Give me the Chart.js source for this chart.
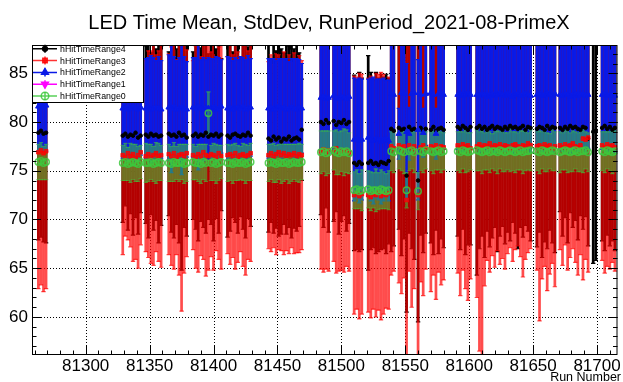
<!DOCTYPE html>
<html><head><meta charset="utf-8">
<script src="https://cdn.jsdelivr.net/npm/chart.js@4.4.3/dist/chart.umd.min.js"></script>
<style>html,body{margin:0;padding:0;background:#fff}canvas{display:block}</style>
</head>
<body>
<canvas id="mychart" width="623" height="382"></canvas>
<script>
// run numbers (groups: A, B, C, D, E)
const runs = [
 81263,81265,81267,81269,
 81329,81331,81333,81335,81337,81339,81341,81343,81347,81349,81351,81353,81355,81357,81359,
 81365,81367,81369,81371,81373,81375,81377,81379,81384,81386,81388,81390,81392,81394,81396,
 81398,81400,81402,81404,81406,81411,81413,81415,81417,81419,81421,81423,81425,81427,81429,
 81443,81445,81447,81449,81451,81453,81455,81457,81459,81461,81463,81465,81467,81469,
 81484,81486,81488,81490,81494,81496,81498,81500,81502,81504,81506,
 81510,81512,81514,81516,81521,81523,81525,81527,81529,81531,81533,81535,81537,
 81539,81541,81545,81547,81549,81551,81553,81555,81557,81560,81562,81564,81566,81570,81572,81574,81576,81578,81580,
 81591,81593,81595,81597,81599,81601,
 81606,81608,81610,81612,81614,81616,81618,81620,81622,81624,81626,81628,81630,81632,81634,81636,81638,81640,81642,81644,81646,81648,
 81653,81655,81657,81659,81661,81663,81665,81667,
 81671,81673,81675,81677,81679,81681,81683,81685,81687,81689,81691,81693,
 81697,81699,
 81704,81706,81708,81710,81712,81714
];

// hHitTimeRange4 mean / std dev
const r4Mean = [
 78.9,79.1,78.8,78.9,
 78.6,78.8,78.5,78.7,78.6,78.9,78.4,78.6,78.7,78.5,78.8,78.6,78.7,78.5,78.6,
 78.8,78.6,78.7,78.5,78.9,78.6,78.7,78.4,78.6,78.8,78.5,78.7,78.6,78.9,78.5,
 78.7,78.6,78.8,78.5,78.7,78.6,78.4,78.7,78.8,78.6,78.5,78.7,78.6,78.9,78.6,
 78.3,78.1,78.5,78.2,78.4,78.0,78.3,78.2,78.5,78.1,78.3,78.4,78.2,79.2,
 80.0,79.8,80.2,79.9,80.1,79.7,80.0,79.9,80.2,79.8,80.0,
 75.8,75.6,75.9,75.7,75.8,76.0,75.7,75.8,75.6,75.9,75.8,75.7,76.0,
 79.3,79.1,79.4,79.2,79.3,74.5,79.5,79.2,79.3,74.0,79.4,79.1,79.3,79.2,79.5,79.1,79.3,79.4,79.2,
 79.5,79.3,79.6,79.4,79.2,79.5,
 79.4,79.6,79.3,79.5,79.2,79.4,79.6,79.3,79.5,79.4,79.2,79.5,79.3,79.6,79.4,79.5,79.3,79.4,79.6,79.2,79.5,79.4,
 79.3,79.5,79.4,79.2,79.6,79.3,79.5,79.4,
 79.4,79.2,79.5,79.3,79.6,79.4,79.5,79.3,79.2,79.5,79.4,78.3,
 79.0,79.1,
 79.4,79.6,79.3,79.5,79.2,79.4
];
const r4Err = [
 11.0,10.9,11.1,11.3,
 8.9,7.4,9.6,8.1,10.2,8.7,9.9,7.9,9.1,10.4,8.3,9.7,8.8,10.9,9.2,
 8.4,9.9,10.6,9.0,11.3,13.8,9.5,10.1,8.6,9.8,10.7,8.9,9.4,10.3,8.5,
 9.2,10.8,8.7,9.9,7.8,10.4,9.6,8.5,9.1,10.0,8.2,9.7,10.5,8.8,9.3,
 9.6,8.4,9.9,9.1,10.1,9.5,8.8,9.7,9.3,10.0,9.2,9.6,8.9,5.2,
 9.5,10.6,9.0,11.2,10.3,8.9,11.5,10.1,9.8,11.0,10.4,
 9.0,8.7,9.2,8.8,11.0,9.1,8.6,9.3,8.9,9.0,8.8,9.2,8.5,
 12.6,11.8,10.4,12.9,11.3,14.0,10.9,12.2,13.4,14.5,11.0,12.5,10.7,11.6,13.1,10.2,12.8,11.4,12.1,
 11.2,12.4,10.6,13.0,11.8,12.1,
 15.1,12.6,11.0,13.4,10.4,12.2,11.5,10.1,12.8,11.1,9.9,12.0,10.6,11.8,9.7,10.9,12.3,10.2,11.4,9.8,10.7,11.6,
 12.1,10.8,13.3,11.5,12.6,10.4,11.9,12.8,
 8.6,10.9,9.3,11.7,8.9,10.2,9.6,11.4,8.8,10.5,9.1,11.0,
 13.5,13.3,
 11.6,12.8,10.9,12.2,11.4,12.6
];

// hHitTimeRange3
const r3Mean = [
 76.9,77.1,76.8,77.0,
 76.6,76.4,76.8,76.5,76.7,76.3,76.6,76.9,76.5,76.7,76.4,76.6,76.8,76.5,76.6,
 76.7,76.5,76.8,76.4,76.6,76.7,76.5,76.8,76.6,76.4,76.7,76.5,76.9,76.6,76.5,
 76.7,76.6,76.4,76.8,76.5,76.6,76.7,76.5,76.8,76.4,76.6,76.7,76.5,76.6,76.8,
 76.6,76.8,76.5,76.7,76.9,76.6,76.8,76.5,76.7,76.6,76.8,76.5,76.7,76.6,
 77.0,77.2,76.8,77.1,76.9,77.3,77.0,76.8,77.1,77.0,76.9,
 72.5,72.7,72.4,72.6,72.5,72.3,72.6,72.5,72.8,72.4,72.6,72.5,72.7,
 77.5,77.3,77.6,77.4,77.5,72.0,77.6,77.3,77.5,72.5,77.4,77.6,77.3,77.5,77.4,77.6,77.3,77.5,77.4,
 77.6,77.4,77.7,77.5,77.6,77.3,
 77.5,77.7,77.4,77.6,77.5,77.8,77.4,77.6,77.5,77.7,77.4,77.6,77.5,77.3,77.6,77.7,77.5,77.4,77.6,77.5,77.8,77.6,
 77.5,77.6,77.4,77.7,77.5,77.6,77.3,77.5,
 77.6,77.4,77.7,77.5,77.6,77.8,77.5,77.4,77.6,78.3,78.2,78.4,
 null,null,
 77.6,77.4,77.7,77.5,77.6,77.4
];
const r3Err = [
 14.0,13.8,14.2,14.1,
 10.2,8.1,8.9,9.3,11.0,10.4,11.6,9.5,9.8,10.6,10.9,11.3,10.1,10.8,11.5,
 10.3,11.2,11.9,10.0,12.3,16.1,12.0,10.6,9.7,11.4,12.1,10.2,11.0,12.4,11.7,
 10.5,11.8,9.6,10.9,11.6,10.1,11.3,10.4,11.9,10.8,9.9,11.5,12.2,10.7,11.1,
 9.6,10.1,9.4,10.3,10.0,9.8,10.4,9.7,10.2,9.5,10.3,9.9,10.1,9.7,
 12.1,12.6,11.9,12.4,11.2,12.8,12.3,12.0,12.5,11.8,12.2,
 12.2,11.9,12.6,12.3,12.0,12.4,11.8,12.5,12.1,12.7,12.3,11.6,11.9,
 13.2,12.6,14.1,15.0,13.5,17.5,12.9,16.3,14.6,18.0,13.8,15.4,12.4,14.9,13.1,15.8,12.7,14.2,13.6,
 13.1,15.2,12.9,14.6,15.9,13.4,
 15.5,21.2,23.4,14.4,11.7,13.2,11.1,12.5,10.7,12.3,11.4,12.7,11.0,10.2,11.9,10.8,10.2,11.2,13.5,11.6,11.2,10.6,
 12.7,18.0,13.5,12.5,14.8,13.2,11.8,14.4,
 10.7,12.1,10.3,12.7,11.5,10.8,11.9,13.1,11.2,14.5,12.3,13.8,
 null,null,
 11.8,12.9,12.5,12.6,12.0,12.7
];

// hHitTimeRange2
const r2Mean = [
 81.6,81.8,81.5,81.7,
 81.4,81.5,81.3,81.4,81.6,81.4,81.3,81.5,81.4,81.6,81.3,81.4,81.5,81.4,81.3,
 81.5,81.4,81.6,81.3,81.4,81.5,81.4,81.3,81.5,81.4,81.6,81.4,81.3,81.5,81.4,
 81.4,81.5,81.3,81.4,81.6,81.4,81.5,81.3,81.4,81.5,81.4,81.6,81.3,81.4,81.5,
 81.4,81.5,81.3,81.4,81.6,81.4,81.5,81.3,81.4,81.5,81.4,81.3,81.5,81.4,
 82.5,82.6,82.4,82.5,82.7,82.5,82.4,82.6,82.5,82.4,82.6,
 78.2,78.3,78.1,78.2,78.4,78.2,78.1,78.3,78.2,78.0,78.2,78.3,78.1,
 82.9,82.8,78.8,83.0,82.9,79.0,78.8,82.9,83.0,79.2,82.8,78.9,82.9,83.0,82.8,78.8,82.9,83.0,82.8,
 82.8,82.9,82.7,82.8,83.0,82.8,
 82.8,82.7,82.9,82.8,82.6,82.8,82.9,82.7,82.8,83.0,82.8,82.7,82.9,82.8,82.6,82.8,82.9,82.7,82.8,82.9,82.8,82.7,
 82.8,82.9,82.7,82.8,83.0,82.8,82.7,82.9,
 82.8,82.7,82.9,82.8,82.6,82.8,82.9,82.7,82.8,82.9,82.7,82.8,
 null,null,
 82.8,82.9,82.7,82.8,82.9,82.7
];
const r2Err = [
 4.6,4.8,4.5,4.7,
 5.1,4.9,5.3,5.0,4.8,5.4,5.2,4.9,5.1,5.0,5.5,5.2,4.8,5.3,5.0,
 5.4,6.6,5.1,5.0,5.2,6.9,5.3,4.9,5.1,5.2,6.5,5.0,5.3,4.9,5.2,
 5.1,5.0,5.4,5.2,4.8,5.3,5.1,5.0,5.2,4.9,5.3,5.0,5.1,5.4,5.0,
 5.1,5.0,5.2,4.9,4.9,5.1,5.0,5.2,4.8,5.0,5.1,5.2,4.9,4.6,
 5.6,5.8,5.5,5.7,5.9,5.6,5.4,5.8,5.7,5.5,5.6,
 6.3,6.1,6.4,6.2,6.0,6.3,6.5,6.1,6.2,6.4,6.3,6.0,6.2,
 5.4,5.6,2.6,5.3,5.5,7.0,2.7,5.4,5.6,7.2,5.5,2.5,5.3,5.6,5.4,2.6,5.5,5.3,5.6,
 5.6,5.4,5.7,5.5,5.3,5.6,
 5.5,5.8,5.4,5.6,5.7,5.5,5.4,5.8,5.6,5.3,5.5,5.7,5.4,5.6,5.8,5.5,5.4,5.6,5.7,5.5,5.6,5.8,
 5.5,5.4,5.7,5.6,5.3,5.5,5.8,5.4,
 5.6,5.7,5.4,5.5,5.8,5.6,5.4,5.7,5.5,5.6,5.8,5.5,
 null,null,
 5.6,5.4,5.7,5.5,5.6,5.8
];

// hHitTimeRange1 (no entries in this period)
const r1Mean = [];
const r1Err = [];

// hHitTimeRange0
const r0Mean = [
 75.9,76.0,75.8,75.9,
 75.8,75.9,75.7,75.8,75.9,75.8,75.7,75.9,75.8,75.8,75.9,75.7,75.8,75.9,75.8,
 75.8,75.7,75.9,75.8,75.8,75.9,75.7,75.8,75.9,75.8,75.8,75.7,75.9,75.8,80.9,
 75.8,75.9,75.7,75.8,75.9,75.8,75.8,75.7,75.9,75.8,75.8,75.9,75.7,75.8,75.9,
 75.8,75.9,75.8,75.7,75.9,75.8,75.8,75.9,75.7,75.8,75.9,75.8,75.8,75.9,
 76.9,77.0,76.8,76.9,77.1,76.9,76.8,77.0,76.9,77.0,76.8,
 73.0,73.1,72.9,73.0,73.1,72.9,73.0,73.0,72.9,73.1,73.0,72.9,73.0,
 77.0,76.9,77.1,77.0,76.9,73.0,77.0,77.1,76.9,72.9,77.0,76.9,77.1,77.0,76.9,77.0,77.1,76.9,77.0,
 77.0,76.9,77.1,77.0,76.9,77.0,
 77.1,77.0,76.9,77.0,77.1,76.9,77.0,77.0,76.9,77.1,77.0,76.9,77.0,77.1,77.0,76.9,77.0,77.1,76.9,77.0,77.0,77.1,
 77.0,76.9,77.1,77.0,76.9,77.0,77.1,77.0,
 76.9,77.0,77.1,77.0,76.9,77.0,77.1,76.9,77.0,77.0,77.1,76.9,
 null,null,
 77.0,76.9,77.1,77.0,76.9,77.0
];
const r0Err = [
 1.8,1.9,1.7,1.8,
 1.8,1.9,1.7,2.0,1.8,1.9,1.8,1.7,2.0,1.9,1.8,1.8,2.1,1.9,1.8,
 1.9,1.8,2.0,1.7,1.9,1.8,2.0,1.9,1.8,1.7,1.9,2.0,1.8,1.9,2.2,
 1.8,1.9,2.0,1.8,1.7,1.9,1.8,2.0,1.9,1.8,1.7,1.9,2.0,1.8,1.9,
 1.9,1.8,2.0,1.9,1.8,2.1,1.9,1.8,2.0,1.9,1.8,1.9,2.0,1.8,
 2.2,2.1,2.3,2.2,2.0,2.3,2.2,2.1,2.4,2.2,2.1,
 1.9,2.0,1.8,2.1,1.9,2.0,1.8,2.2,1.9,2.0,1.9,1.8,2.0,
 2.0,2.1,1.9,2.0,2.2,1.8,2.0,1.9,2.1,1.9,2.0,2.1,1.9,2.0,2.2,1.9,2.0,2.1,1.9,
 2.0,2.1,1.9,2.2,2.0,1.9,
 2.1,2.0,2.2,1.9,2.0,2.1,1.8,2.0,2.2,1.9,2.1,2.0,1.9,2.2,2.0,2.1,1.9,2.0,2.2,2.0,1.9,2.1,
 2.0,2.2,1.9,2.1,2.0,1.8,2.1,2.0,
 2.1,1.9,2.0,2.2,2.0,2.1,1.9,2.0,2.1,2.2,1.9,2.0,
 null,null,
 2.0,2.1,1.9,2.0,2.2,2.1
];

// axes
const xTicks = [81300,81350,81400,81450,81500,81550,81600,81650,81700];
const yTicks = [60,65,70,75,80,85];
const X_MIN = 81258, X_MAX = 81716, Y_MIN = 56.1, Y_MAX = 87.9;

const FONT = "'Liberation Sans', Arial, Helvetica, sans-serif";

// drawn in this order (black under red under blue under green)
const series = [
  {label:'hHitTimeRange4', mean:r4Mean, err:r4Err, bar:'#000000', line:'#000000', fill:'#000000', style:'circle', r:1.8, rot:0},
  {label:'hHitTimeRange3', mean:r3Mean, err:r3Err, bar:'rgba(255,0,0,0.7)', line:'rgba(255,0,0,0.8)', fill:'rgba(255,0,0,0.8)', style:'rect', r:2.6, rot:0},
  {label:'hHitTimeRange2', mean:r2Mean, err:r2Err, bar:'#0a1ae6', line:'#0a1ae6', fill:'#0a1ae6', style:'triangle', r:3.3, rot:0},
  {label:'hHitTimeRange1', mean:r1Mean, err:r1Err, bar:'rgba(255,0,255,0.7)', line:'#ff00ff', fill:'#ff00ff', style:'triangle', r:3.3, rot:180},
  {label:'hHitTimeRange0', mean:r0Mean, err:r0Err, bar:'rgba(60,200,60,0.55)', line:'rgba(60,200,60,0.85)', fill:'rgba(0,0,0,0)', style:'circle', r:3.2, rot:0}
];

const datasets = series.map((s, k) => ({
  label: s.label,
  data: runs.map((r, i) => ({x: r, y: s.mean[i] == null ? null : s.mean[i]})).filter(p => p.y != null),
  showLine: false,
  pointStyle: s.style,
  pointRotation: s.rot,
  pointRadius: s.r,
  pointBackgroundColor: s.fill,
  pointBorderColor: s.line,
  pointBorderWidth: k == 4 ? 1.5 : 1,
  order: 5 - k
}));

const rootLook = {
  id: 'rootLook',
  beforeDatasetsDraw(chart) {
    const ctx = chart.ctx, a = chart.chartArea;
    const xs = chart.scales.x, ys = chart.scales.y;
    ctx.save();
    // dotted grid
    ctx.strokeStyle = '#000'; ctx.lineWidth = 1; ctx.setLineDash([1, 2]);
    xTicks.forEach(v => {
      const px = Math.round(xs.getPixelForValue(v)) + 0.5;
      ctx.beginPath(); ctx.moveTo(px, a.top); ctx.lineTo(px, a.bottom); ctx.stroke();
    });
    yTicks.forEach(v => {
      const py = Math.round(ys.getPixelForValue(v)) + 0.5;
      ctx.beginPath(); ctx.moveTo(a.left, py); ctx.lineTo(a.right, py); ctx.stroke();
    });
    ctx.setLineDash([]);
    // error bars
    ctx.beginPath(); ctx.rect(a.left, a.top, a.right - a.left, a.bottom - a.top); ctx.clip();
    series.forEach(s => {
      ctx.strokeStyle = s.bar;
      for (let i = 0; i < runs.length; i++) {
        const m = s.mean[i], e = s.err[i];
        if (m == null || e == null) continue;
        const px = xs.getPixelForValue(runs[i]);
        const lo = ys.getPixelForValue(m - e), hi = ys.getPixelForValue(m + e);
        ctx.lineWidth = 2.7;
        ctx.beginPath(); ctx.moveTo(px, lo); ctx.lineTo(px, hi); ctx.stroke();
        ctx.lineWidth = 1.2;
        ctx.beginPath();
        ctx.moveTo(px - 2.2, lo); ctx.lineTo(px + 2.2, lo);
        ctx.moveTo(px - 2.2, hi); ctx.lineTo(px + 2.2, hi);
        ctx.stroke();
      }
    });
    ctx.restore();
  },
  afterDatasetsDraw(chart) {
    const ctx = chart.ctx, a = chart.chartArea;
    const xs = chart.scales.x, ys = chart.scales.y;
    ctx.save();
    ctx.strokeStyle = '#000'; ctx.lineWidth = 1;
    // frame
    ctx.strokeRect(a.left + 0.5, a.top + 0.5, a.right - a.left - 1, a.bottom - a.top - 1);
    // ticks on all sides
    ctx.beginPath();
    for (let v = Math.ceil(Y_MIN); v <= Y_MAX; v++) {
      const py = Math.round(ys.getPixelForValue(v)) + 0.5;
      const len = yTicks.includes(v) ? 9 : 4.5;
      ctx.moveTo(a.left, py); ctx.lineTo(a.left + len, py);
      ctx.moveTo(a.right, py); ctx.lineTo(a.right - len, py);
    }
    for (let v = Math.ceil(X_MIN / 10) * 10; v <= X_MAX; v += 10) {
      const px = Math.round(xs.getPixelForValue(v)) + 0.5;
      const len = xTicks.includes(v) ? 9 : 4.5;
      ctx.moveTo(px, a.bottom); ctx.lineTo(px, a.bottom - len);
      ctx.moveTo(px, a.top); ctx.lineTo(px, a.top + len);
    }
    ctx.stroke();
    // legend box
    const L = {x: 32, y: 45, w: 111, h: 57};
    ctx.fillStyle = '#fff';
    ctx.fillRect(L.x, L.y, L.w, L.h);
    ctx.strokeRect(L.x + 0.5, L.y + 0.5, L.w, L.h);
    series.forEach((s, k) => {
      const y = 48.8 + 11.8 * k, cx = 45;
      ctx.strokeStyle = s.line; ctx.lineWidth = 1.5;
      ctx.beginPath();
      ctx.moveTo(33, y); ctx.lineTo(57, y);
      ctx.moveTo(cx, y - 4); ctx.lineTo(cx, y + 4);
      ctx.stroke();
      ctx.fillStyle = s.fill; ctx.strokeStyle = s.line;
      Chart.helpers.drawPoint(ctx, {pointStyle: s.style, radius: s.r + 0.6, rotation: s.rot, borderWidth: k == 4 ? 1.5 : 1}, cx, y);
      ctx.fillStyle = '#000';
      ctx.font = '8.8px ' + FONT;
      ctx.textAlign = 'left'; ctx.textBaseline = 'middle';
      ctx.fillText(s.label, 60, y + 0.5);
    });
    ctx.restore();
  },
  afterDraw(chart) {
    const ctx = chart.ctx;
    ctx.save();
    ctx.fillStyle = '#000';
    ctx.font = '20px ' + FONT;
    ctx.textAlign = 'center'; ctx.textBaseline = 'alphabetic';
    ctx.fillText('LED Time Mean, StdDev, RunPeriod_2021-08-PrimeX', 329, 29);
    ctx.font = '12.5px ' + FONT;
    ctx.textAlign = 'right';
    ctx.fillText('Run Number', 621, 381);
    ctx.restore();
  }
};

new Chart(document.querySelector('#mychart'), {
  type: 'scatter',
  data: {datasets: datasets},
  options: {
    responsive: false,
    animation: false,
    devicePixelRatio: 1,
    events: [],
    layout: {padding: {top: 45, right: 3, left: 0, bottom: 0}},
    plugins: {legend: {display: false}, tooltip: {enabled: false}, title: {display: false}},
    scales: {
      x: {
        type: 'linear', min: X_MIN, max: X_MAX,
        grid: {display: false, drawTicks: false}, border: {display: false},
        afterBuildTicks: s => { s.ticks = xTicks.map(v => ({value: v})); },
        afterFit: s => { s.height = 27; s.paddingLeft = 0; s.paddingRight = 0; },
        ticks: {color: '#000', font: {family: FONT, size: 17}, padding: 1, maxRotation: 0, autoSkip: false, callback: v => String(v)}
      },
      y: {
        type: 'linear', min: Y_MIN, max: Y_MAX,
        grid: {display: false, drawTicks: false}, border: {display: false},
        afterBuildTicks: s => { s.ticks = yTicks.map(v => ({value: v})); },
        afterFit: s => { s.width = 32; s.paddingTop = 0; s.paddingBottom = 0; },
        ticks: {color: '#000', font: {family: FONT, size: 17}, padding: 4, callback: v => String(v)}
      }
    }
  },
  plugins: [rootLook]
});
</script>
</body></html>
